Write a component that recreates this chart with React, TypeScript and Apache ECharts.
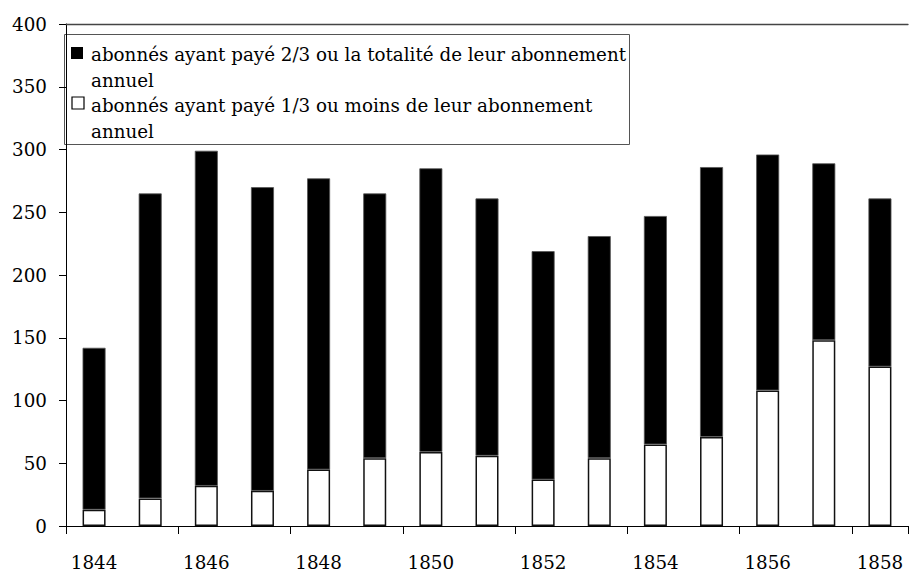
import React, { useEffect, useRef } from "react";
import * as echarts from "echarts";

const years = ["1844", "1845", "1846", "1847", "1848", "1849", "1850", "1851", "1852", "1853", "1854", "1855", "1856", "1857", "1858"];
// abonnés ayant payé 1/3 ou moins (white, bottom)
const lowPaid = [13, 22, 32, 28, 45, 54, 59, 56, 37, 54, 65, 71, 108, 148, 127];
// abonnés ayant payé 2/3 ou la totalité (black, top)
const highPaid = [129, 243, 267, 242, 232, 211, 226, 205, 182, 177, 182, 215, 188, 141, 134];
const yTicks = { min: 0, max: 400, interval: 50 };
const seriesNames = [
  "abonnés ayant payé 2/3 ou la totalité de leur abonnement annuel",
  "abonnés ayant payé 1/3 ou moins de leur abonnement annuel",
];
const legendLines = [
  ["abonnés ayant payé 2/3 ou la totalité de leur abonnement", "annuel"],
  ["abonnés ayant payé 1/3 ou moins de leur abonnement", "annuel"],
];

const FONT = "DejaVu Serif";
const FS = 18.3;

export default function App() {
  const ref = useRef<HTMLDivElement>(null);
  useEffect(() => {
    document.body.style.margin = "0";
    const chart = echarts.init(ref.current!, null, { renderer: "svg" });
    const legendText = (t: string, y: number) => ({
      type: "text",
      x: 91,
      y,
      style: { text: t, fontSize: FS, fontFamily: FONT, fill: "#000", verticalAlign: "middle" },
    });
    chart.setOption({
      animation: false,
      backgroundColor: "#fff",
      textStyle: { fontFamily: FONT },
      grid: { left: 66, right: 1, top: 24, bottom: 48 },
      xAxis: [
        {
          type: "category",
          data: years,
          axisLine: { lineStyle: { color: "#000", width: 1 } },
          axisTick: { show: true, length: 8, lineStyle: { color: "#000" } },
          axisLabel: { interval: 1, margin: 27, color: "#000", fontSize: FS, fontFamily: FONT },
          splitLine: { show: false },
        },
        {
          type: "category",
          data: years,
          position: "top",
          axisLine: { show: true, lineStyle: { color: "#444", width: 1.3 } },
          axisTick: { show: false },
          axisLabel: { show: false },
          splitLine: { show: false },
        },
      ],
      yAxis: {
        type: "value",
        min: yTicks.min,
        max: yTicks.max,
        interval: yTicks.interval,
        axisLine: { show: true, lineStyle: { color: "#000", width: 1 } },
        axisTick: { show: true, length: 7, lineStyle: { color: "#000" } },
        axisLabel: { margin: 19, color: "#000", fontSize: FS, fontFamily: FONT },
        splitLine: { show: false },
      },
      series: [
        {
          name: seriesNames[1],
          type: "bar",
          stack: "total",
          data: lowPaid,
          barWidth: 23,
          itemStyle: { color: "#fff", borderColor: "#111", borderWidth: 1.5 },
        },
        {
          name: seriesNames[0],
          type: "bar",
          stack: "total",
          data: highPaid,
          barWidth: 23,
          itemStyle: { color: "#000", borderColor: "#555", borderWidth: 0.8 },
        },
      ],
      graphic: [
        {
          type: "group",
          z: 100,
          children: [
            {
              type: "rect",
              shape: { x: 64.5, y: 34.5, width: 565, height: 110 },
              style: { fill: "#fff", stroke: "#555", lineWidth: 1 },
            },
            {
              type: "rect",
              shape: { x: 71, y: 47, width: 12, height: 12 },
              style: { fill: "#000" },
            },
            {
              type: "rect",
              shape: { x: 72, y: 97, width: 12, height: 12 },
              style: { fill: "#fff", stroke: "#000", lineWidth: 1.2 },
            },
            legendText(legendLines[0][0], 54),
            legendText(legendLines[0][1], 80),
            legendText(legendLines[1][0], 105),
            legendText(legendLines[1][1], 131),
          ],
        },
      ],
    });
    return () => chart.dispose();
  }, []);
  return <div ref={ref} style={{ width: 909, height: 574 }} />;
}
